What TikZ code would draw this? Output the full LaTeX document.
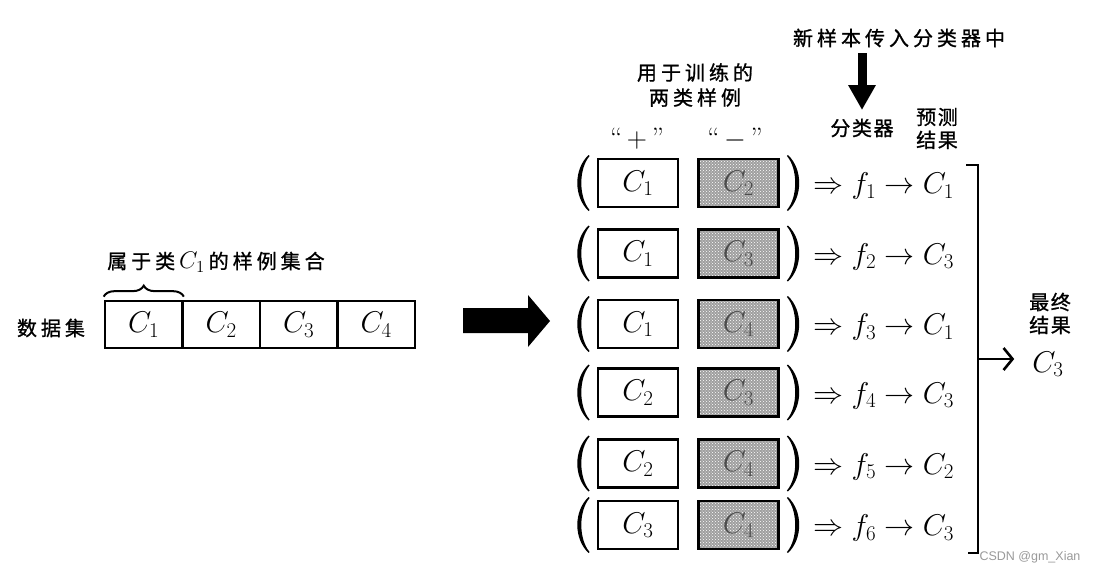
\RequirePackage{fix-cm}
\documentclass[tikz,border=0pt]{standalone}
\usepackage{fontspec}
\newfontfamily\cjk[LetterSpace=20,FakeBold=1]{Noto Sans CJK SC}
\newfontfamily\cjkn[LetterSpace=8,FakeBold=1]{Noto Sans CJK SC}
\newfontfamily\wmfont{Liberation Sans}
\usetikzlibrary{arrows.meta,patterns,decorations.pathreplacing}
\tikzset{
  mth/.style={inner sep=0pt, font=\fontsize{30}{36}\selectfont},
  cj/.style={inner sep=0pt, font=\cjk\fontsize{20}{24}\selectfont},
  cjn/.style={inner sep=0pt, align=center, font=\cjkn\fontsize{20}{23}\selectfont},
  cell/.style={draw, line width=2.7pt, minimum width=77.5pt, minimum height=47pt, inner sep=0pt, font=\fontsize{30}{36}\selectfont},
  wbox/.style={cell, minimum width=80pt, minimum height=48pt, line width=2.9pt},
  gbox/.style={wbox, preaction={fill=gray!75}, pattern=crosshatch dots, pattern color=white, text=black!70},
  qt/.style={inner sep=0pt, font=\fontsize{28}{32}\selectfont},
  thin/.style={line width=2pt},
}
\begin{document}
\begin{tikzpicture}[x=1pt,y=-1pt]
\useasboundingbox (0,0) rectangle (1094,574);
% ---------- left: data set ----------
\node[cj] (ds) at (51,328) {数据集};
\node[cell] (d1) at (143.75,324.5) {$C_1$};
\node[cell] (d2) at (221.25,324.5) {$C_2$};
\node[cell] (d3) at (298.75,324.5) {$C_3$};
\node[cell] (d4) at (376.25,324.5) {$C_4$};
\draw[thin, decorate, decoration={brace, amplitude=11pt}]
  ([yshift=3pt]d1.north west) -- ([yshift=3pt]d1.north east);
\node[inner sep=0pt, anchor=west, font=\fontsize{24}{28}\selectfont] (blab) at (107,262)
  {{\cjk\fontsize{20}{24}\selectfont 属于类}$\,C_1\,${\cjk\fontsize{20}{24}\selectfont 的样例集合}};
% big block arrow
\fill (463,308) -- (528,308) -- (528,295) -- (550,321) -- (528,347) -- (528,333) -- (463,333) -- cycle;
% ---------- headers ----------
\node[cj] (hdr) at (899,38) {新样本传入分类器中};
\coordinate (dt) at (862,53);
\coordinate (db) at (862,110);
\draw[line width=9pt, -{Triangle[length=25pt,width=26pt]}] (dt) -- (db);
\node[cj, align=center, font=\cjk\fontsize{20}{25}\selectfont] (train) at (695,85) {用于训练的\\两类样例};
\node[qt, anchor=base] (plus) at (637,147) {``\,$+$\,''};
\node[qt, anchor=base] (minus) at (735,147) {``\,$-$\,''};
\node[cjn] (cls) at (862,128) {分类器};
\node[cjn] (pred) at (937,128.5) {预测\\结果};
% ---------- rows ----------
\foreach \i/\a/\b/\r/\y in {1/1/2/1/183, 2/1/3/3/253.5, 3/1/4/1/324, 4/2/3/3/392.5, 5/2/4/2/463.5, 6/3/4/3/525}{
  \node[wbox] (w\i) at (638,\y) {$C_{\a}$};
  \node[gbox] (g\i) at (738.5,\y) {$C_{\b}$};
  \node[mth, anchor=base west] (f\i) at (813,\y+10.5) {$\Rightarrow f_{\i}\rightarrow C_{\r}$};
  % left parenthesis
  \fill ([xshift=-8pt,yshift=28pt]w\i.west) .. controls +(-15pt,-14pt) and +(-15pt,14pt) .. ([xshift=-8pt,yshift=-28pt]w\i.west)
     -- ([xshift=-7pt,yshift=-27pt]w\i.west) .. controls +(-11pt,13pt) and +(-11pt,-13pt) .. ([xshift=-7pt,yshift=27pt]w\i.west) -- cycle;
  % right parenthesis
  \fill ([xshift=8pt,yshift=28pt]g\i.east) .. controls +(15pt,-14pt) and +(15pt,14pt) .. ([xshift=8pt,yshift=-28pt]g\i.east)
     -- ([xshift=7pt,yshift=-27pt]g\i.east) .. controls +(11pt,13pt) and +(11pt,-13pt) .. ([xshift=7pt,yshift=27pt]g\i.east) -- cycle;
}
% ---------- bracket and final result ----------
\coordinate (bt) at (978,165);
\coordinate (bb) at (978,553);
\coordinate (bm) at (978,359);
\draw[thin] ([xshift=-12pt]bt) -- (bt) -- (bb) -- ([xshift=-10pt]bb);
\node[cjn] (fin) at (1050,313.5) {最终\\结果};
\node[mth, anchor=base] (res) at (1048,372) {$C_3$};
\draw[line width=2.4pt, -{Straight Barb[length=9pt,width=22pt,line width=2.6pt]}] (bm) -- ([xshift=-18pt]bm -| res.west);
% watermark
\node[inner sep=0pt, text=gray!80, font=\wmfont\fontsize{12.5}{14}\selectfont] (wm) at (1030,557) {CSDN @gm\_Xian};
\end{tikzpicture}
\end{document}
